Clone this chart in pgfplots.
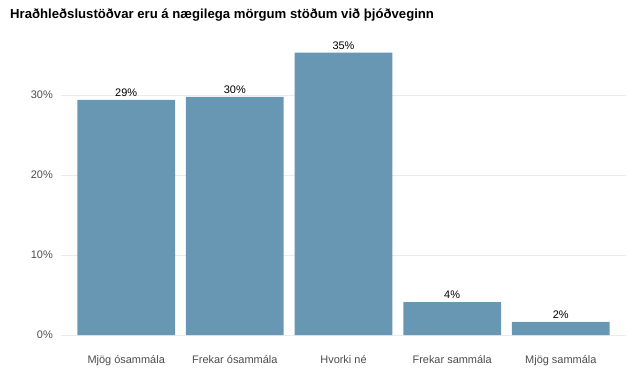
\documentclass[border=0pt]{standalone}
\usepackage{fontspec}
\setmainfont{Liberation Sans}
\usepackage{pgfplots}
\pgfplotsset{compat=1.18}
\definecolor{barc}{HTML}{6797B2}
\definecolor{gridc}{HTML}{EBEBEB}
\definecolor{tickc}{HTML}{4D4D4D}
\begin{document}
\begin{tikzpicture}[x=1bp,y=1bp]
\useasboundingbox (0,0) rectangle (628,380);
\node[anchor=base west, inner sep=0pt, font=\bfseries\fontsize{13.2}{15}\selectfont] at (10,361.7) {Hraðhleðslustöðvar eru á nægilega mörgum stöðum við þjóðveginn};
\begin{axis}[
  at={(61bp,45bp)}, anchor=south west,
  scale only axis, width=565bp, height=296bp,
  xmin=0.4, xmax=5.6, ymin=0, ymax=37,
  axis line style={draw=none},
  major tick length=0pt,
  ymajorgrids, grid style={draw=gridc, line width=0.8bp},
  ytick={0,10,20,30},
  yticklabels={0\%,10\%,20\%,30\%},
  xtick={1,2,3,4,5},
  xticklabels={Mjög ósammála,Frekar ósammála,Hvorki né,Frekar sammála,Mjög sammála},
  tick label style={font=\fontsize{11}{13}\selectfont, text=tickc},
  yticklabel style={anchor=east, inner sep=0pt, xshift=-8bp},
  xticklabel style={anchor=base, inner sep=0pt, yshift=-28.5bp},
  /pgf/number format/assume math mode=true,
]
\addplot[ybar, bar width=0.9, fill=barc, draw=none,
  point meta=explicit symbolic,
  nodes near coords,
  nodes near coords style={anchor=base, inner sep=0pt, yshift=3.3bp, text=black, font=\fontsize{11}{13}\selectfont}]
coordinates {
  (1,29.4) [29\%]
  (2,29.75) [30\%]
  (3,35.3) [35\%]
  (4,4.1) [4\%]
  (5,1.65) [2\%]
};
\end{axis}
\end{tikzpicture}
\end{document}
